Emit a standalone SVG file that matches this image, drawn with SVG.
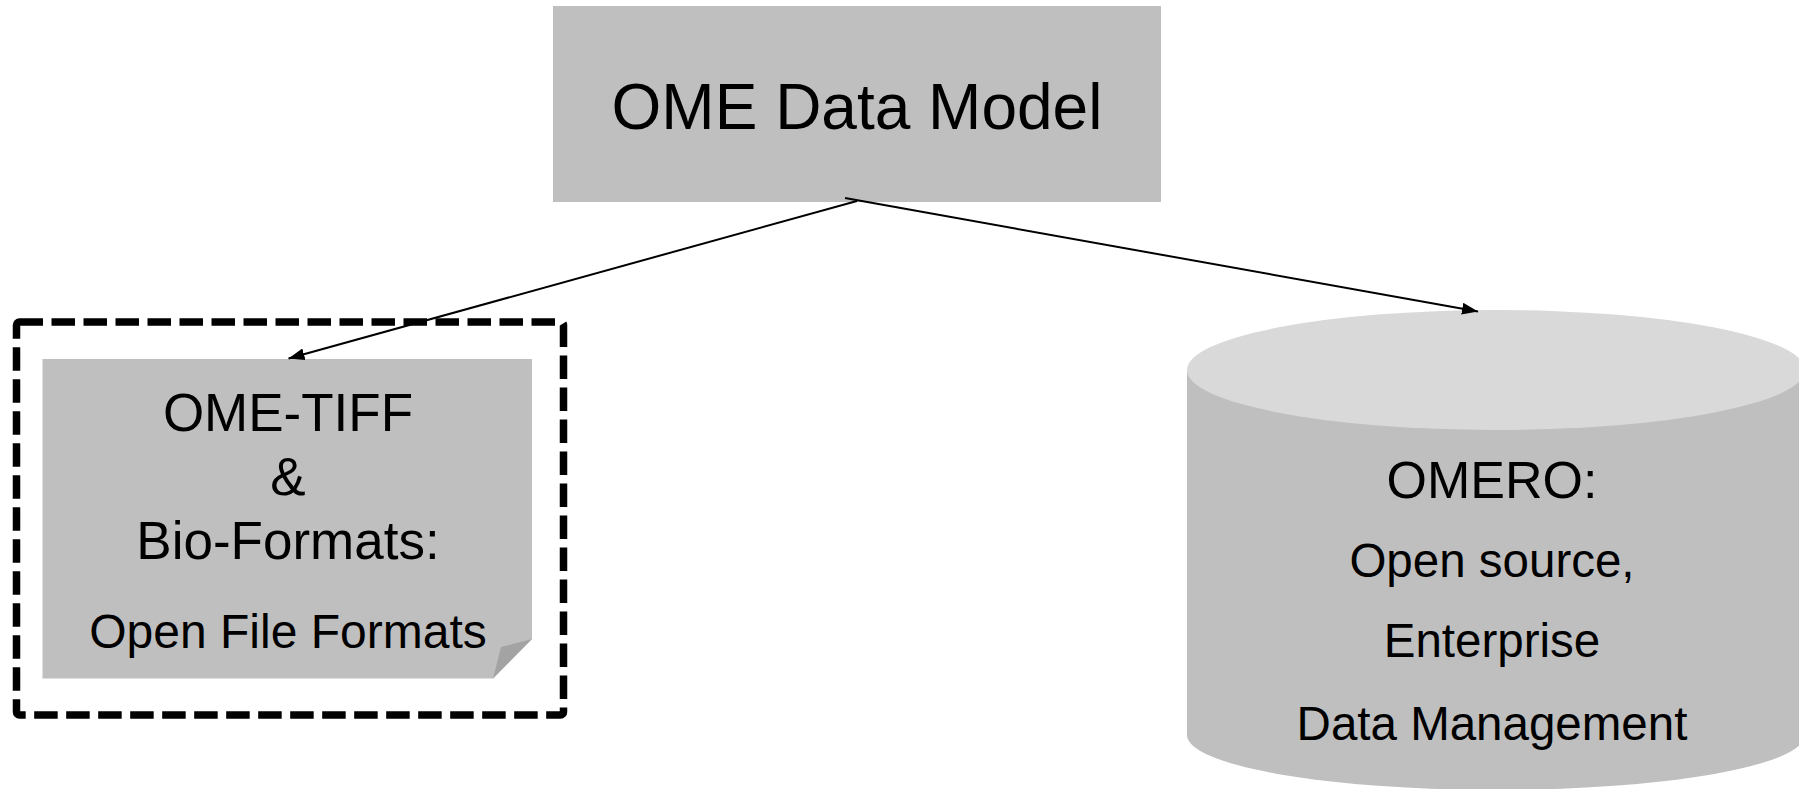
<svg xmlns="http://www.w3.org/2000/svg" width="1799" height="789" viewBox="0 0 1799 789">
<style>
.lbl{font-family:"Liberation Sans",Arial,sans-serif;fill:#000;text-anchor:middle}
.box{fill:#bfbfbf}
.conn{stroke:#000;stroke-width:2;fill:none}
</style>
<defs>
<marker id="arr" viewBox="0 0 16 12" refX="16" refY="6" markerWidth="16" markerHeight="12" markerUnits="userSpaceOnUse" orient="auto">
<path d="M0,0 L16,6 L0,12 z" fill="#000"/>
</marker>
</defs>
<rect width="1799" height="789" fill="#fff"/>
<g id="ome-data-model">
<rect class="box" x="553" y="6" width="608" height="196"/>
<text class="lbl" x="857" y="129" font-size="64">OME Data Model</text>
</g>
<g id="ome-tiff">
<rect x="16.5" y="322" width="547" height="393" rx="3" fill="none" stroke="#000" stroke-width="7.5" stroke-dasharray="23.5 8.5"/>
<path class="box" d="M42.5,359 H532 V639 L493,678.5 H42.5 Z"/>
<path d="M532,639 L493,678.5 L501,647 Z" fill="#a3a3a3"/>
<text class="lbl" x="288" y="431" font-size="53">OME-TIFF</text>
<text class="lbl" x="288" y="495" font-size="53">&amp;</text>
<text class="lbl" x="288" y="559" font-size="53">Bio-Formats:</text>
<text class="lbl" x="288" y="648" font-size="48">Open File Formats</text>
</g>
<g id="omero">
<path class="box" d="M1187,370 V735 A309,55 0 0 0 1805,735 V370 Z"/>
<ellipse cx="1496" cy="370" rx="309" ry="60" fill="#d9d9d9"/>
<text class="lbl" x="1492" y="498" font-size="52">OMERO:</text>
<text class="lbl" x="1492" y="577" font-size="47.5">Open source,</text>
<text class="lbl" x="1492" y="657" font-size="47.5">Enterprise</text>
<text class="lbl" x="1492" y="740" font-size="47.5">Data Management</text>
</g>
<g id="connectors">
<line class="conn" x1="857" y1="201" x2="288.5" y2="358.5" marker-end="url(#arr)"/>
<line class="conn" x1="845" y1="198" x2="1478" y2="311.5" marker-end="url(#arr)"/>
</g>
</svg>
